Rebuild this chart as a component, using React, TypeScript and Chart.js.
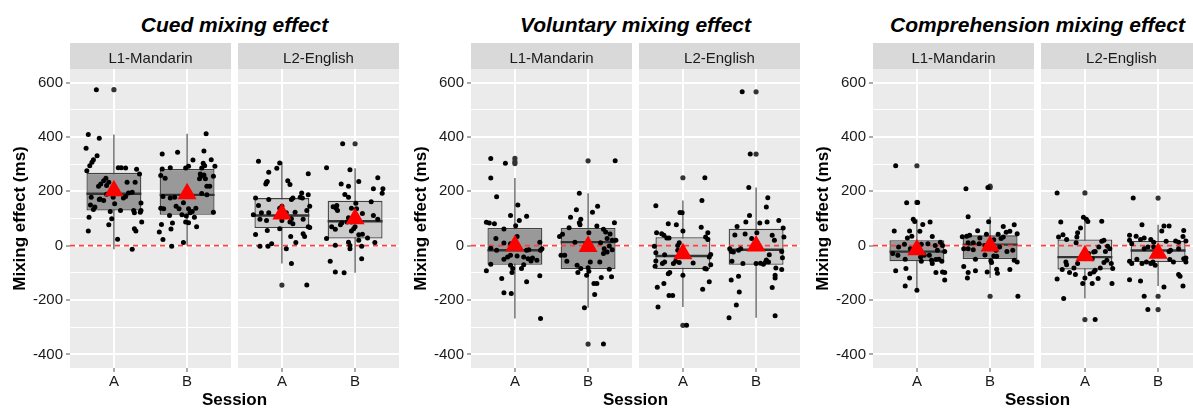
import React, { useEffect, useRef } from "react";
import { Chart, registerables } from "chart.js";

Chart.register(...registerables);

// ---------- labels ----------
const panelTitles = ["Cued mixing effect", "Voluntary mixing effect", "Comprehension mixing effect"];
const facetLabels = ["L1-Mandarin", "L2-English"];
const sessions = ["A", "B"];
const yMajorTicks = [-400, -200, 0, 200, 400, 600];
const yMinorTicks = [-300, -100, 100, 300, 500];
const yAxisTitle = "Mixing effect (ms)";
const xAxisTitle = "Session";

// ---------- Cued ----------
const cuedL1A = [574, 409, 395, 358, 331, 316, 307, 294, 276, 287, 287, 286, 281, 264, 248, 239, 227, 219, 233, 221, 233, 233, 197, 178, 172, 166, 181, 178, 150, 142, 133, 154, 129, 126, 129, 121, 123, 129, 157, 105, 99, 77, 87, 62, 54, 54, 24, -13, 170, 189, 203, 175, 194];
const cuedL1AJit = [-0.24, -0.35, -0.2, -0.38, -0.23, -0.28, -0.3, -0.33, -0.37, 0.06, 0.1, 0.16, 0.31, 0.35, -0.11, -0.14, -0.18, -0.21, -0.07, -0.1, 0.18, 0.29, 0.25, -0.31, -0.19, -0.14, 0.16, -0.01, -0.32, -0.26, -0.28, 0.01, 0.09, -0.05, 0.27, 0.28, 0.36, 0.37, 0.37, -0.34, -0.03, -0.07, 0.38, 0.28, 0.3, -0.35, 0.05, 0.25, -0.2, -0.1, 0.04, 0.13, 0.2];
const cuedL1B = [412, 337, 344, 348, 315, 287, 282, 286, 292, 303, 294, 286, 316, 292, 258, 248, 264, 260, 246, 255, 246, 255, 219, 219, 181, 178, 175, 192, 187, 158, 138, 136, 145, 136, 136, 126, 138, 121, 111, 114, 109, 105, 123, 78, 83, 87, 84, 70, 61, 50, 23, 12, -2];
const cuedL1BJit = [0.26, -0.34, -0.13, 0.23, 0.08, -0.23, -0.34, -0.02, 0.02, 0.22, 0.24, 0.2, 0.33, 0.38, -0.36, -0.3, 0.18, 0.23, 0.17, 0.19, 0.25, 0.36, 0.27, 0.31, -0.33, -0.17, -0.23, 0.2, 0.27, -0.05, -0.36, -0.32, -0.15, -0.11, 0.02, 0.07, 0.12, 0.04, -0.24, -0.07, -0.01, 0.1, 0.36, -0.35, -0.2, -0.02, 0.02, 0.13, -0.22, -0.38, -0.33, -0.05, -0.21];
const cuedL2A = [311, 304, 285, 270, 265, 233, 227, 236, 239, 225, 194, 178, 187, 175, 148, 170, 170, 175, 175, 145, 129, 145, 138, 114, 121, 121, 121, 123, 97, 93, 93, 87, 99, 81, 97, 70, 67, 62, 56, 41, 44, 34, 34, 12, 7, -2, -2, -11, -66, -145];
const cuedL2AJit = [-0.32, -0.03, -0.07, -0.18, 0.36, -0.21, -0.22, -0.2, 0.08, 0.11, 0.27, 0.25, 0.36, -0.36, -0.32, -0.18, 0.13, 0.15, 0.28, 0.38, 0.34, 0.0, -0.03, -0.39, -0.28, -0.18, 0.06, 0.18, -0.3, -0.21, 0.0, 0.11, 0.13, 0.15, 0.29, 0.36, 0.38, -0.03, -0.2, -0.36, 0.29, 0.31, 0.12, 0.19, -0.14, -0.19, -0.3, 0.06, 0.13, 0.34];
const cuedL2B = [375, 287, 279, 250, 227, 219, 236, 209, 209, 193, 188, 178, 162, 156, 143, 138, 129, 148, 138, 136, 118, 111, 103, 87, 84, 77, 87, 70, 62, 97, 70, 60, 54, 40, 42, 28, 26, 2, 13, 1, 20, 12, -2, -11, -48, -57, -97, -100];
const cuedL2BJit = [-0.17, -0.39, -0.07, 0.31, -0.19, -0.09, 0.05, 0.25, 0.38, 0.37, -0.14, -0.09, 0.22, 0.01, -0.3, -0.26, -0.24, -0.25, -0.05, 0.02, 0.1, 0.25, -0.09, -0.11, -0.18, -0.2, -0.05, 0.0, -0.02, 0.31, -0.32, -0.27, -0.05, 0.05, 0.1, 0.17, -0.39, -0.27, -0.09, -0.07, 0.05, 0.27, 0.09, -0.07, 0.09, -0.34, -0.27, -0.15];
// box stats: [lower whisker, Q1, median, Q3, upper whisker]
const cuedL1ABox = [-13, 129, 191, 268, 409];
const cuedL1BBox = [1, 114, 187, 282, 412];
const cuedL2ABox = [-66, 65, 111, 175, 309];
const cuedL2BBox = [-100, 26, 90, 165, 285];
const cuedL1AOut = [574];
const cuedL1BOut: number[] = [];
const cuedL2AOut = [-145];
const cuedL2BOut = [375];
const cuedMeans = [202, 191, 117, 99];

// ---------- Voluntary ----------
const volL1A = [321, 303, 249, 180, 150, 111, 108, 93, 86, 83, 81, 61, 73, 26, 10, 7, 34, 13, -9, -17, -35, -38, -17, -15, -17, -11, -50, -42, -42, -48, -45, -54, -56, -68, -72, -84, -99, -84, -70, -92, -121, -133, -111, -173, -176, -268];
const volL1AJit = [-0.33, -0.13, -0.33, -0.25, 0.04, -0.06, 0.16, 0.06, -0.39, -0.35, -0.28, -0.15, 0.01, -0.26, -0.15, -0.06, 0.03, 0.34, -0.33, -0.25, -0.06, 0.03, 0.16, 0.19, 0.35, 0.37, -0.15, -0.1, 0.12, 0.18, 0.24, 0.3, 0.22, -0.33, -0.06, -0.03, -0.04, 0.09, 0.12, -0.39, -0.18, 0.16, 0.34, -0.15, -0.05, 0.35];
const volL1B = [312, 193, 145, 132, 123, 105, 97, 84, 77, 66, 72, 84, 60, 50, 34, 42, 48, 43, 26, 13, 4, -5, 11, 20, 20, -35, -57, -11, -23, -15, -29, -1, -72, -84, -81, -94, -109, -60, -60, -99, -87, -114, -117, -139, -139, -180, -228, -362, -35];
const volL1BJit = [0.37, -0.12, 0.13, -0.16, 0.06, -0.24, -0.1, -0.12, -0.11, -0.26, 0.12, 0.36, 0.21, 0.24, -0.39, -0.35, 0.01, 0.3, 0.26, -0.18, -0.03, 0.04, 0.17, 0.33, 0.38, -0.37, -0.29, 0.22, 0.26, 0.33, 0.21, 0.29, -0.15, -0.1, 0.0, 0.01, -0.02, 0.03, 0.16, -0.14, 0.29, 0.32, 0.18, 0.08, 0.12, 0.09, -0.05, 0.21, -0.32];
const volL2A = [250, 147, 166, 122, 121, 81, 77, 68, 48, 44, 38, 28, 28, 54, 48, 32, 23, -2, 11, 1, -17, -26, -33, -32, -56, -66, -60, -66, -57, -62, -64, -42, -70, -76, -99, -103, -84, -86, -109, -139, -153, -133, -160, -183, -183, -226, -293];
const volL2AJit = [0.3, -0.37, 0.26, -0.04, -0.01, -0.2, -0.09, 0.25, -0.36, -0.29, -0.26, -0.22, -0.19, 0.0, 0.34, 0.31, 0.34, -0.39, -0.05, -0.07, -0.07, -0.37, -0.25, 0.38, -0.37, -0.28, -0.25, -0.13, -0.1, -0.05, 0.14, 0.36, 0.38, -0.38, -0.18, -0.2, 0.3, 0.32, 0.0, -0.26, -0.35, 0.36, 0.27, -0.19, -0.14, -0.34, 0.05];
const volL2B = [566, 337, 214, 176, 142, 111, 87, 93, 87, 71, 83, 43, 48, 39, 38, 65, 32, 20, 26, -11, -21, -23, -17, -11, -21, -44, -33, -57, -66, -66, -65, -68, -60, -60, -53, -82, -109, -119, -88, -126, -112, -154, -170, -218, -265, -258];
const volL2BJit = [-0.19, -0.08, -0.1, 0.16, 0.14, -0.09, -0.14, 0.31, 0.15, -0.26, 0.05, -0.15, 0.01, -0.29, 0.22, 0.37, 0.38, 0.25, -0.06, -0.36, -0.34, -0.31, -0.24, -0.21, 0.35, 0.36, 0.18, -0.33, -0.18, 0.0, 0.06, 0.1, 0.13, 0.17, 0.14, 0.27, 0.26, 0.26, 0.35, -0.34, -0.24, 0.22, -0.23, -0.27, -0.37, 0.26];
const volL1ABox = [-268, -70, -17, 65, 249];
const volL1BBox = [-228, -86, 13, 65, 193];
const volL2ABox = [-226, -86, -38, 31, 166];
const volL2BBox = [-265, -70, -15, 62, 214];
const volL1AOut = [321, 309, 302];
const volL1BOut = [312, -362];
const volL2AOut = [250, -293];
const volL2BOut = [566, 337];
const volMeans = [0, -3, -30, -1];

// ---------- Comprehension ----------
const compL1A = [294, 158, 159, 97, 89, 78, 87, 54, 54, 53, 34, 28, 35, 5, -5, -29, -35, 5, 7, 13, 1, -11, 1, -17, -21, -42, -57, -35, -50, -35, -66, -51, -50, -57, -54, -92, -84, -99, -97, -99, -126, -119, -148, -164];
const compL1AJit = [-0.29, -0.14, 0.01, -0.05, -0.03, 0.08, 0.18, -0.31, -0.1, 0.04, 0.21, -0.13, -0.07, -0.17, -0.25, -0.33, -0.26, 0.06, 0.15, 0.32, 0.35, -0.09, 0.25, 0.28, 0.38, 0.05, 0.06, 0.1, -0.16, 0.17, 0.21, 0.26, 0.3, 0.34, 0.2, -0.29, -0.15, 0.26, 0.35, 0.38, 0.38, -0.1, -0.16, 0.0];
const compL1B = [209, 214, 106, 88, 55, 71, 77, 49, 53, 44, 33, 35, 38, 28, 42, 42, 11, 11, 7, 22, 26, 32, -11, -11, -15, 1, -5, -17, -5, -21, -17, -50, -34, -38, -39, -62, -55, -54, -60, -77, -92, -99, -119, -97, -87, -101, -88, -186];
const compL1BJit = [-0.33, -0.03, -0.3, -0.02, -0.17, 0.18, 0.33, 0.22, 0.27, 0.37, -0.38, -0.32, -0.28, -0.14, -0.05, 0.11, -0.3, -0.23, -0.15, 0.05, 0.15, 0.18, -0.36, -0.3, -0.23, -0.07, 0.01, 0.08, 0.13, 0.23, 0.31, -0.2, -0.07, 0.05, 0.09, 0.02, 0.01, 0.33, 0.37, -0.36, -0.2, -0.3, -0.31, -0.04, 0.09, 0.1, 0.27, 0.38];
const compL2A = [194, 105, 97, 89, 87, 90, 65, 48, 32, 32, 40, 23, 11, -23, -21, 16, 20, -21, -2, -11, -29, -48, -5, -60, -70, -82, -66, -88, -99, -106, -90, -82, -62, -54, -66, -84, -103, -97, -119, -139, -139, -121, -123, -139, -194, -272];
const compL2AJit = [-0.38, -0.02, 0.02, 0.04, -0.33, 0.23, -0.06, -0.1, -0.11, -0.36, -0.3, -0.25, -0.12, 0.12, 0.14, 0.23, 0.26, 0.28, 0.31, 0.34, 0.05, 0.1, 0.19, -0.26, -0.25, -0.15, -0.1, -0.31, -0.21, -0.13, 0.14, 0.21, 0.26, 0.3, 0.36, 0.38, 0.07, 0.12, 0.0, -0.03, 0.1, 0.18, -0.38, 0.37, -0.29, 0.14];
const compL2B = [175, 77, 72, 72, 54, 56, 34, 38, 35, 23, 28, 23, 13, 20, 7, 16, 17, 13, 17, -5, -5, -11, -23, -21, -17, -11, -45, -57, -66, -50, -66, -60, -66, -72, -60, -51, -60, -48, -60, -125, -130, -106, -112, -152, -148, -186, -235];
const compL2BJit = [-0.34, -0.22, 0.08, 0.15, 0.05, 0.35, 0.34, -0.39, -0.3, -0.24, -0.19, -0.1, -0.06, -0.39, -0.36, 0.11, 0.24, 0.28, 0.38, -0.14, -0.06, -0.19, 0.02, 0.15, 0.17, 0.28, 0.38, -0.39, -0.36, -0.29, -0.22, -0.16, -0.1, -0.04, -0.07, 0.16, 0.21, 0.35, 0.38, -0.39, -0.24, 0.28, 0.3, 0.08, 0.34, -0.19, -0.14];
const compL1ABox = [-164, -57, -22, 20, 97];
const compL1BBox = [-119, -49, 4, 38, 106];
const compL2ABox = [-194, -88, -42, 23, 105];
const compL2BBox = [-148, -60, -18, 17, 77];
const compL1AOut = [294, 159];
const compL1BOut = [219, 214, -186];
const compL2AOut = [194, -272];
const compL2BOut = [175, -186, -235];
const compMeans = [-15, -1, -37, -28];

// ---------- assembly ----------
type Group = { vals: number[]; jit: number[]; box: number[]; out: number[] };
const panelsData: { groups: Group[][]; means: number[] }[] = [
  {
    groups: [
      [
        { vals: cuedL1A, jit: cuedL1AJit, box: cuedL1ABox, out: cuedL1AOut },
        { vals: cuedL1B, jit: cuedL1BJit, box: cuedL1BBox, out: cuedL1BOut },
      ],
      [
        { vals: cuedL2A, jit: cuedL2AJit, box: cuedL2ABox, out: cuedL2AOut },
        { vals: cuedL2B, jit: cuedL2BJit, box: cuedL2BBox, out: cuedL2BOut },
      ],
    ],
    means: cuedMeans,
  },
  {
    groups: [
      [
        { vals: volL1A, jit: volL1AJit, box: volL1ABox, out: volL1AOut },
        { vals: volL1B, jit: volL1BJit, box: volL1BBox, out: volL1BOut },
      ],
      [
        { vals: volL2A, jit: volL2AJit, box: volL2ABox, out: volL2AOut },
        { vals: volL2B, jit: volL2BJit, box: volL2BBox, out: volL2BOut },
      ],
    ],
    means: volMeans,
  },
  {
    groups: [
      [
        { vals: compL1A, jit: compL1AJit, box: compL1ABox, out: compL1AOut },
        { vals: compL1B, jit: compL1BJit, box: compL1BBox, out: compL1BOut },
      ],
      [
        { vals: compL2A, jit: compL2AJit, box: compL2ABox, out: compL2AOut },
        { vals: compL2B, jit: compL2BJit, box: compL2BBox, out: compL2BOut },
      ],
    ],
    means: compMeans,
  },
];

// ---------- layout / style ----------
const FONT = "'Liberation Sans', Arial, Helvetica, sans-serif";
const FACET_W = 161;
const Y_AXIS_W = 71;
const STRIP_H = 26;
const CANVAS_TOP = 43;
const CANVAS_H = 366;
const X_AXIS_H = 41;
const panelPos = [
  { l1: 70, l2: 238 },
  { l1: 471, l2: 639 },
  { l1: 873, l2: 1041 },
];
const boxFills = ["#999999", "#cccccc"];
const BOX_HALF = 0.375;

const stripPlugin = {
  id: "stripBg",
  beforeDraw(chart: any, _args: any, opts: any) {
    const { ctx, chartArea } = chart;
    const { left, top, width, height } = chartArea;
    ctx.save();
    ctx.fillStyle = "#EBEBEB";
    ctx.fillRect(left, top, width, height);
    ctx.fillStyle = "#D9D9D9";
    ctx.fillRect(left, top - STRIP_H, width, STRIP_H);
    ctx.fillStyle = "#1A1A1A";
    ctx.font = `15px ${FONT}`;
    ctx.textAlign = "center";
    ctx.textBaseline = "alphabetic";
    ctx.fillText(opts.label, left + width / 2, top - STRIP_H + 19.5);
    ctx.restore();
  },
};

function buildConfig(p: number, f: number, showY: boolean): any {
  const groups = panelsData[p].groups[f];
  const means = panelsData[p].means;
  const datasets: any[] = [];
  groups.forEach((g, i) => {
    const cx = i + 1;
    datasets.push({
      type: "line",
      data: [
        { x: cx, y: g.box[0] },
        { x: cx, y: g.box[4] },
      ],
      borderColor: "#4d4d4d",
      borderWidth: 1.2,
      pointRadius: 0,
      order: 6,
    });
    datasets.push({
      type: "line",
      data: [
        { x: cx - BOX_HALF, y: g.box[2] },
        { x: cx + BOX_HALF, y: g.box[2] },
      ],
      borderColor: "#333333",
      borderWidth: 2.4,
      pointRadius: 0,
      order: 4,
    });
  });
  datasets.push({
    type: "bar",
    data: groups.map((g, i) => ({ x: i + 1, y: [g.box[1], g.box[3]] })),
    backgroundColor: boxFills[f],
    borderColor: "#404040",
    borderWidth: 1.3,
    borderSkipped: false,
    categoryPercentage: 1,
    barPercentage: 2 * BOX_HALF,
    order: 5,
  });
  datasets.push({
    type: "line",
    data: [
      { x: 0.4, y: 0 },
      { x: 2.6, y: 0 },
    ],
    borderColor: "#FF4040",
    backgroundColor: "#FF4040",
    borderWidth: 1.8,
    borderDash: [5, 4],
    pointRadius: 0,
    fill: false,
    order: 3,
  });
  datasets.push({
    type: "scatter",
    data: groups.flatMap((g, i) => g.out.map((v) => ({ x: i + 1, y: v }))),
    backgroundColor: "#333333",
    borderWidth: 0,
    pointRadius: 2.6,
    order: 2,
  });
  datasets.push({
    type: "scatter",
    data: groups.flatMap((g, i) => g.vals.map((v, k) => ({ x: i + 1 + g.jit[k], y: v }))),
    backgroundColor: "#000000",
    borderWidth: 0,
    pointRadius: 2.5,
    order: 1,
  });
  datasets.push({
    type: "scatter",
    data: groups.map((_, i) => ({ x: i + 1, y: means[f * 2 + i] })),
    pointStyle: "triangle",
    backgroundColor: "#FF0000",
    borderColor: "#FF0000",
    borderWidth: 0,
    pointRadius: 11,
    order: 0,
  });

  const allY = [...yMajorTicks, ...yMinorTicks].sort((a, b) => a - b);
  const isMajor = (v: number) => yMajorTicks.includes(v);

  return {
    type: "scatter",
    data: { datasets },
    plugins: [stripPlugin],
    options: {
      responsive: false,
      animation: false,
      events: [],
      layout: { autoPadding: false, padding: { top: STRIP_H, left: 0, right: 0, bottom: 0 } },
      plugins: {
        legend: { display: false },
        tooltip: { enabled: false },
        stripBg: { label: facetLabels[f] },
      },
      scales: {
        x: {
          type: "linear",
          min: 0.4,
          max: 2.6,
          offset: false,
          afterBuildTicks: (s: any) => {
            s.ticks = sessions.map((_, i) => ({ value: i + 1 }));
          },
          afterFit: (s: any) => {
            s.height = X_AXIS_H;
          },
          ticks: {
            callback: (v: number) => sessions[Math.round(v) - 1] ?? "",
            font: { family: FONT, size: 15 },
            color: "#1A1A1A",
            padding: 1,
            autoSkip: false,
            maxRotation: 0,
          },
          grid: {
            color: "#FFFFFF",
            lineWidth: 2,
            offset: false,
            tickLength: 4,
            tickColor: "#555555",
            tickWidth: 1,
          },
          border: { display: false },
        },
        y: {
          type: "linear",
          min: -450,
          max: 650,
          afterBuildTicks: (s: any) => {
            s.ticks = allY.map((v) => ({ value: v }));
          },
          afterFit: (s: any) => {
            s.width = showY ? Y_AXIS_W : 0;
          },
          ticks: {
            display: showY,
            autoSkip: false,
            callback: (v: number) => (isMajor(v) ? String(v) : ""),
            font: { family: FONT, size: 15 },
            color: "#1A1A1A",
            padding: 3,
          },
          grid: {
            color: "#FFFFFF",
            lineWidth: (c: any) => (c.tick && isMajor(c.tick.value) ? 2 : 1),
            drawTicks: showY,
            tickLength: 4,
            tickColor: (c: any) => (c.tick && isMajor(c.tick.value) ? "#555555" : "rgba(0,0,0,0)"),
            tickWidth: 1,
          },
          border: { display: false },
          title: {
            display: showY,
            text: yAxisTitle,
            color: "#000000",
            font: { family: FONT, size: 17, weight: "bold" },
            padding: { top: 11, bottom: 0 },
          },
        },
      },
    },
  };
}

function Facet({ p, f }: { p: number; f: number }) {
  const ref = useRef<HTMLCanvasElement | null>(null);
  const showY = f === 0;
  const left = (f === 0 ? panelPos[p].l1 : panelPos[p].l2) - (showY ? Y_AXIS_W : 0);
  const width = FACET_W + (showY ? Y_AXIS_W : 0);
  useEffect(() => {
    if (!ref.current) return;
    const chart = new Chart(ref.current, buildConfig(p, f, showY));
    return () => chart.destroy();
  }, [p, f, showY]);
  return (
    <canvas
      ref={ref}
      width={width}
      height={CANVAS_H}
      style={{ position: "absolute", left, top: CANVAS_TOP, width, height: CANVAS_H }}
    />
  );
}

export default function App() {
  return (
    <div
      style={{
        position: "absolute",
        left: 0,
        top: 0,
        width: 1193,
        height: 409,
        overflow: "hidden",
        background: "#FFFFFF",
        fontFamily: FONT,
      }}
    >
      {panelTitles.map((t, p) => {
        const cx = (panelPos[p].l1 + panelPos[p].l2 + FACET_W) / 2;
        return (
          <React.Fragment key={t}>
            <Facet p={p} f={0} />
            <Facet p={p} f={1} />
            <div
              style={{
                position: "absolute",
                left: cx - 200,
                width: 400,
                top: 14,
                textAlign: "center",
                fontSize: 21,
                lineHeight: "21px",
                fontWeight: "bold",
                fontStyle: "italic",
                color: "#000",
                whiteSpace: "nowrap",
              }}
            >
              {t}
            </div>
            <div
              style={{
                position: "absolute",
                left: cx - 100,
                width: 200,
                top: 391,
                textAlign: "center",
                fontSize: 17,
                lineHeight: "17px",
                fontWeight: "bold",
                color: "#000",
                whiteSpace: "nowrap",
              }}
            >
              {xAxisTitle}
            </div>
          </React.Fragment>
        );
      })}
    </div>
  );
}
